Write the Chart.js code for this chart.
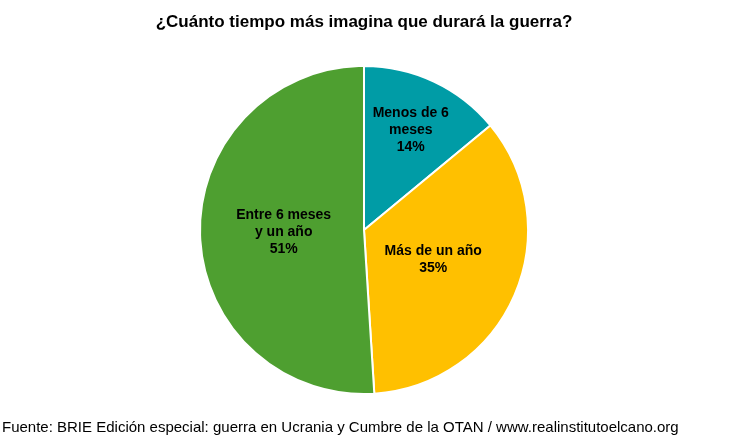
<!DOCTYPE html>
<html><head><meta charset="utf-8">
<script src="https://cdn.jsdelivr.net/npm/chart.js@4/dist/chart.umd.min.js"></script>
<style>html,body{margin:0;padding:0;background:#fff}#wrap{width:733px;height:440px}</style>
</head><body><div id="wrap"><canvas id="c"></canvas></div>
<script>
const categories = [['Menos de 6', 'meses'], ['Más de un año'], ['Entre 6 meses', 'y un año']];
const values = [14, 35, 51];
const colors = ['#009CA6', '#FFC000', '#4E9F30'];
const labelRadius = [0.67, 0.46, 0.49];

const textPlugin = {
  id: 'texts',
  afterDraw(chart) {
    const ctx = chart.ctx;
    ctx.save();
    ctx.fillStyle = '#000';
    ctx.textAlign = 'center';
    ctx.textBaseline = 'middle';
    ctx.font = 'bold 17px "Liberation Sans", Arial, sans-serif';
    ctx.fillText('¿Cuánto tiempo más imagina que durará la guerra?', 364, 22);
    ctx.font = '15px "Liberation Sans", Arial, sans-serif';
    ctx.textAlign = 'left';
    ctx.fillText('Fuente: BRIE Edición especial: guerra en Ucrania y Cumbre de la OTAN / www.realinstitutoelcano.org', 2, 428);
    ctx.textAlign = 'center';
    ctx.font = 'bold 14px "Liberation Sans", Arial, sans-serif';
    chart.getDatasetMeta(0).data.forEach((arc, i) => {
      const mid = (arc.startAngle + arc.endAngle) / 2;
      const r = arc.outerRadius * labelRadius[i];
      const x = arc.x + Math.cos(mid) * r, y = arc.y + Math.sin(mid) * r;
      const lines = [...categories[i], values[i] + '%'];
      lines.forEach((t, k) => ctx.fillText(t, x, y + (k - (lines.length - 1) / 2) * 17));
    });
    ctx.restore();
  }
};

new Chart(document.getElementById('c'), {
  type: 'pie',
  data: { labels: categories.map(l => l.join(' ')), datasets: [{ data: values, backgroundColor: colors, borderColor: '#fff', borderWidth: 2 }] },
  options: {
    responsive: true, maintainAspectRatio: false, animation: false,
    layout: { padding: { top: 65, bottom: 45, left: 199, right: 204 } },
    plugins: { legend: { display: false }, tooltip: { enabled: false } }
  },
  plugins: [textPlugin]
});
</script></body></html>
